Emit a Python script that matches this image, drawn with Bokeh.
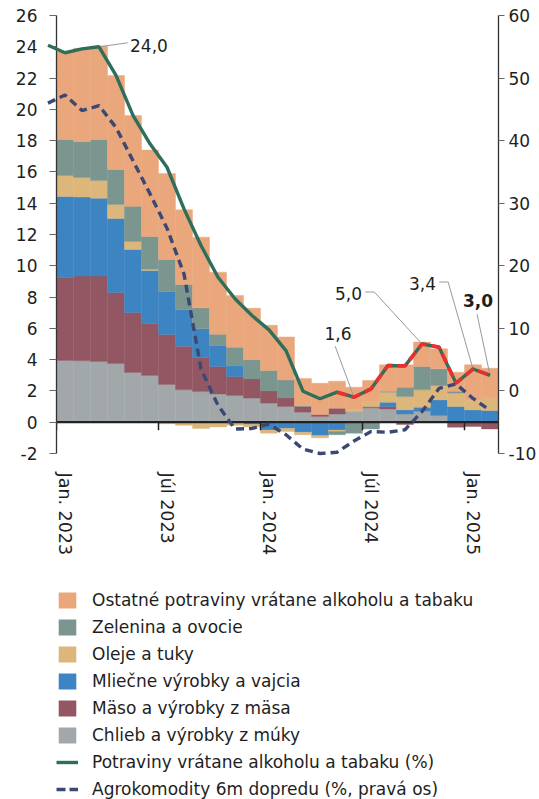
import numpy as np
from bokeh.plotting import figure
from bokeh.models import (Range1d, LinearAxis, FixedTicker, Label, Legend,
                          LegendItem, Span)
from bokeh.layouts import column
from bokeh.embed import file_html
from bokeh.resources import INLINE
from bokeh.core.properties import value

# ---------------- data ----------------
months = ["Jan. 2023", "Feb. 2023", "Mar. 2023", "Apr. 2023", "Máj 2023", "Jún 2023",
          "Júl 2023", "Aug. 2023", "Sep. 2023", "Okt. 2023", "Nov. 2023", "Dec. 2023",
          "Jan. 2024", "Feb. 2024", "Mar. 2024", "Apr. 2024", "Máj 2024", "Jún 2024",
          "Júl 2024", "Aug. 2024", "Sep. 2024", "Okt. 2024", "Nov. 2024", "Dec. 2024",
          "Jan. 2025", "Feb. 2025"]
tick_positions = [0, 6, 12, 18, 24]
tick_labels = ["Jan. 2023", "Júl 2023", "Jan. 2024", "Júl 2024", "Jan. 2025"]
left_ticks = [-2, 0, 2, 4, 6, 8, 10, 12, 14, 16, 18, 20, 22, 24, 26]
right_ticks = [-10, 0, 10, 20, 30, 40, 50, 60]

chlieb = [3.95, 3.93, 3.88, 3.75, 3.18, 2.99, 2.41, 2.07, 1.96, 1.81, 1.71, 1.54, 1.22,
          1.00, 0.64, 0.36, 0.53, 0.70, 0.92, 0.85, 0.53, 0.70, 0.43, 0.05, 0.0, 0.0]
maso = [5.32, 5.41, 5.46, 4.54, 3.83, 3.32, 3.20, 2.79, 2.20, 1.75, 1.21, 1.23, 0.78,
        0.55, 0.36, 0.13, 0.37, 0.0, 0.08, 0.15, -0.15, 0.0, 0.0, -0.32, -0.28, -0.43]
mliecne = [5.16, 5.05, 4.98, 4.73, 4.03, 3.39, 2.75, 2.33, 1.81, 1.34, 0.71, -0.15, -0.5,
           -0.4, -0.64, -0.85, -0.5, -0.1, 0.0, 0.28, 0.26, 0.26, 1.0, 0.95, 0.79, 0.75]
oleje = [1.34, 1.26, 1.13, 0.90, 0.51, 0.08, -0.1, -0.2, -0.4, -0.3, -0.2, -0.15, -0.2,
         -0.2, -0.16, -0.15, -0.1, 0.09, 0.32, 0.64, 0.85, 1.11, 0.92, 0.86, 0.6, 0.81]
zelenina = [2.31, 2.30, 2.63, 2.24, 2.25, 2.09, 2.04, 1.61, 1.34, 0.73, 1.17, 1.23, 1.30,
            1.15, 0.05, 0.0, -0.2, -0.6, -0.43, 0.06, 0.60, 1.49, 1.06, 0.12, 0.0, 0.0]
ostatne = [5.6, 5.95, 5.97, 6.0, 5.8, 5.53, 5.5, 4.78, 4.52, 3.96, 3.3, 3.29, 2.9,
           2.75, 1.75, 2.0, 1.72, 1.45, 1.35, 1.69, 1.43, 1.56, 1.28, 1.22, 2.28, 1.89]

# lines (first value = Dec. 2022, only partly visible at the left edge)
potraviny = [24.1, 23.62, 23.87, 24.0, 22.17, 19.61, 17.8, 16.3, 13.64, 11.3, 9.27, 7.89,
             6.82, 5.9, 4.58, 1.98, 1.5, 1.92, 1.6, 2.13, 3.63, 3.6, 5.0, 4.8, 2.5, 3.4, 3.0]
agro = [46.0, 47.3, 44.8, 45.6, 42.1, 36.8, 31.5, 26.0, 18.7, 3.5, -2.3, -6.1, -6.0,
        -5.3, -7.0, -9.3, -10.0, -9.8, -8.0, -6.5, -6.6, -6.2, -3.3, 0.4, 1.1, -1.2, -3.1]
red_start = 16  # month index where the red dashed highlight begins

ann_index = [2, 17, 21, 24, 25]
ann_text = ["24,0", "1,6", "5,0", "3,4", "3,0"]

# ---------------- style ----------------
FONT = "DejaVu Sans"
TXT = "#1e1e1e"
C_OST = "#e9a77b"
C_ZEL = "#7b968f"
C_OLE = "#dcb67a"
C_MLI = "#3d84c2"
C_MAS = "#935763"
C_CHL = "#a2a8aa"
C_GREEN = "#2f6e5b"
C_NAVY = "#3a4873"
C_RED = "#e8302e"

series = [
    ("Chlieb a výrobky z múky", chlieb, C_CHL),
    ("Mäso a výrobky z mäsa", maso, C_MAS),
    ("Mliečne výrobky a vajcia", mliecne, C_MLI),
    ("Oleje a tuky", oleje, C_OLE),
    ("Zelenina a ovocie", zelenina, C_ZEL),
    ("Ostatné potraviny vrátane alkoholu a tabaku", ostatne, C_OST),
]

n = len(months)
xs = np.arange(n)
xl = np.arange(-1, n)

W, H = 539, 560
BL, BR, BT, BB = 55, 39, 15, 107
FW = W - BL - BR
FH = H - BT - BB

p = figure(width=W, height=H, x_range=Range1d(-0.5, n - 0.5), y_range=Range1d(-2, 26),
           output_backend="svg", toolbar_location=None, x_axis_location=None,
           min_border_left=BL, min_border_right=BR, min_border_top=BT, min_border_bottom=BB)
p.outline_line_color = None
p.grid.visible = False
p.extra_y_ranges = {"right": Range1d(-10, 60)}

sx = FW / n
sy = FH / 28.0

# stacked bars
pos = np.zeros(n)
neg = np.zeros(n)
for name, vals, col in series:
    v = np.array(vals, dtype=float)
    bottom = np.where(v >= 0, pos, neg + v)
    top = np.where(v >= 0, pos + v, neg)
    pos = pos + np.clip(v, 0, None)
    neg = neg + np.clip(v, None, 0)
    m = v != 0
    p.vbar(x=xs[m], width=1.0, bottom=bottom[m], top=top[m],
           fill_color=col, line_color=col, line_width=0.4)

# zero line with month ticks
p.add_layout(Span(location=0, dimension="width", line_color="#222222",
                  line_width=2.3, level="glyph"))
tb = np.array(tick_positions) - 0.5
p.segment(x0=tb, y0=np.zeros(len(tb)), x1=tb, y1=np.full(len(tb), -8 / sy),
          line_color="#222222", line_width=1.5)

# leader lines for annotations (offsets in screen px)
pot = np.array(potraviny)
leaders = {
    "24,0": ([(0, 0), (29, 4)], (31, 1), "left", "normal"),
    "1,6": ([(0, 0), (-19, 51)], (-16, 64), "center", "normal"),
    "5,0": ([(0, 0), (-48, 52), (-57, 52)], (-60, 51), "right", "normal"),
    "3,4": ([(0, 0), (-25, 87), (-34, 87)], (-37, 86), "right", "normal"),
    "3,0": ([(0, 0), (-13, 61)], (-12, 75), "center", "bold"),
}
lx, ly = [], []
for idx, txt in zip(ann_index, ann_text):
    pts, (ox, oy), align, style = leaders[txt]
    yv = pot[idx + 1]
    lx.append([idx + dx / sx for dx, dy in pts])
    ly.append([yv + dy / sy for dx, dy in pts])
    p.add_layout(Label(x=idx, y=yv, text=txt, x_offset=ox, y_offset=oy,
                       text_align=align, text_baseline="middle", text_font=FONT,
                       text_font_size="17px", text_font_style=style, text_color=TXT))
p.multi_line(lx, ly, line_color="#9a9a9a", line_width=1)

# lines
p.line(xl, potraviny, line_color=C_GREEN, line_width=3.4, level="overlay")
p.line(xs[red_start:], pot[red_start + 1:], line_color=C_RED, line_width=3.6,
       line_dash="10 5", level="overlay")
p.line(xl, agro, y_range_name="right", line_color=C_NAVY, line_width=3.4,
       line_dash="8 5", level="overlay")

# left axis
ya = p.yaxis[0]
ya.ticker = FixedTicker(ticks=left_ticks)
ya.major_label_overrides = {t: str(t) for t in left_ticks}
ya.axis_line_color = "#333333"
ya.axis_line_width = 1.3
ya.major_tick_line_color = "#666666"
ya.major_tick_out = 7
ya.major_tick_in = 0
ya.minor_tick_out = 0
ya.minor_tick_in = 0
ya.major_label_standoff = 12
ya.major_label_text_font = FONT
ya.major_label_text_font_size = "17px"
ya.major_label_text_color = TXT

# right axis
ra = LinearAxis(y_range_name="right", ticker=FixedTicker(ticks=right_ticks),
                major_label_overrides={t: str(t) for t in right_ticks},
                axis_line_color="#333333", axis_line_width=1.3,
                major_tick_line_color="#666666", major_tick_out=6, major_tick_in=0,
                minor_tick_out=0, minor_tick_in=0, major_label_standoff=4,
                major_label_text_font=FONT, major_label_text_font_size="17px",
                major_label_text_color=TXT)
p.add_layout(ra, "right")

# month labels
la = LinearAxis(ticker=FixedTicker(ticks=tick_positions),
                major_label_overrides=dict(zip(tick_positions, tick_labels)),
                major_label_orientation="vertical", axis_line_color=None,
                major_tick_out=0, major_tick_in=0, minor_tick_out=0, minor_tick_in=0,
                major_label_standoff=19, major_label_text_font=FONT,
                major_label_text_font_size="17.5px", major_label_text_color=TXT)
p.add_layout(la, "below")

# ---------------- legend figure ----------------
LH = 799 - H
lg = figure(width=W, height=LH, x_range=Range1d(0, 1), y_range=Range1d(0, 1),
            output_backend="svg", toolbar_location=None, x_axis_location=None,
            y_axis_location=None, min_border_left=56, min_border_top=30,
            min_border_right=0, min_border_bottom=0)
lg.outline_line_color = None
lg.grid.visible = False
lg.axis.visible = False

# legend-only renderers, placed just below the visible area of the legend canvas
items = []
for name, vals, col in reversed(series):
    r = lg.vbar(x=[0.5], width=0.1, top=[-0.5], bottom=[-0.6], fill_color=col,
                line_color=None)
    items.append(LegendItem(label=value(name), renderers=[r]))
r1 = lg.line([0.4, 0.6], [-0.5, -0.5], line_color=C_GREEN, line_width=3.4)
items.append(LegendItem(label=value("Potraviny vrátane alkoholu a tabaku (%)"), renderers=[r1]))
r2 = lg.line([0.4, 0.6], [-0.5, -0.5], line_color=C_NAVY, line_width=3.4, line_dash="9 4")
items.append(LegendItem(label=value("Agrokomodity 6m dopredu (%, pravá os)"), renderers=[r2]))

legend = Legend(items=items, location="top_left", glyph_width=22, glyph_height=20,
                label_height=20, label_standoff=14, spacing=7, padding=0, margin=0,
                border_line_color=None, background_fill_alpha=0,
                label_text_font=FONT, label_text_font_size="17px", label_text_color=TXT)
lg.add_layout(legend)

layout = column(p, lg)
open("out.html", "w").write(file_html(layout, INLINE, title="Potraviny"))
